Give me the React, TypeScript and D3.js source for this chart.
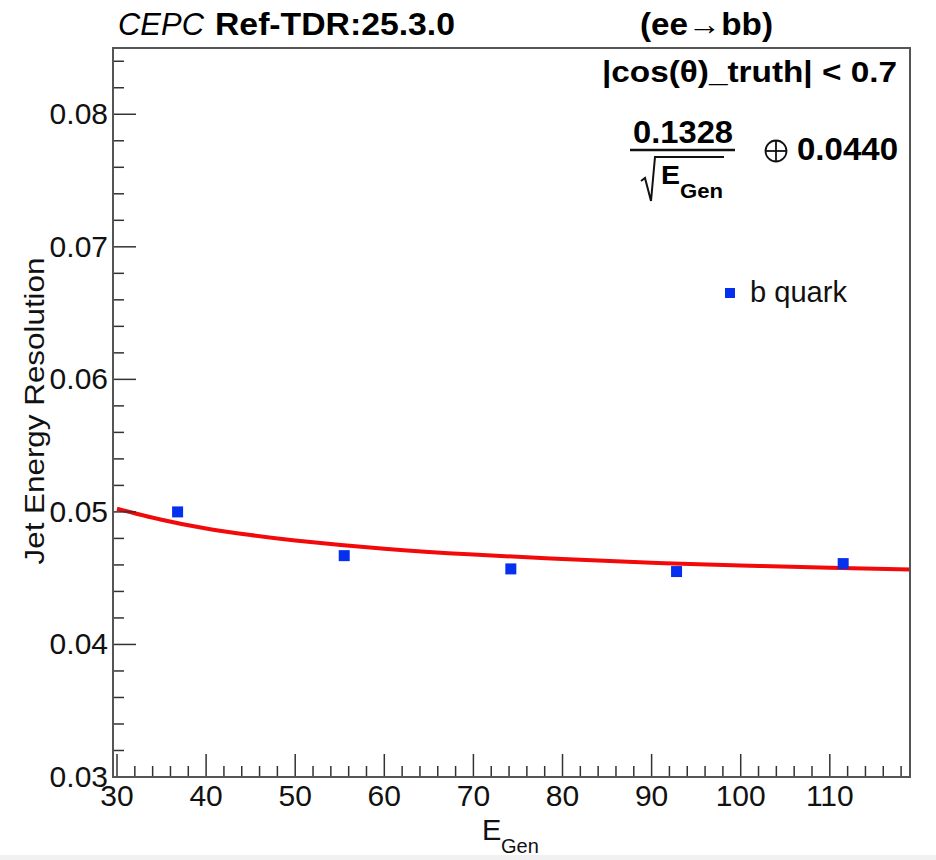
import React from 'react';
import * as d3 from 'd3';

// ---- data ----
const energies = [36.8, 55.5, 74.2, 92.8, 111.5];
const resolutions = [0.05, 0.0467, 0.0457, 0.0455, 0.0461];
const fitE = [30, 35, 40, 45, 50, 60, 70, 80, 90, 100, 110, 119];
const fitRes = [0.05024, 0.04941, 0.04875, 0.04825, 0.04784, 0.04722, 0.04678, 0.04644, 0.04617, 0.04596, 0.04578, 0.04565];
const xMajorTicks = [30, 40, 50, 60, 70, 80, 90, 100, 110];
const xTickLabels = ['30', '40', '50', '60', '70', '80', '90', '100', '110'];
const yMajorTicks = [0.03, 0.04, 0.05, 0.06, 0.07, 0.08];
const yTickLabels = ['0.03', '0.04', '0.05', '0.06', '0.07', '0.08'];
const xMinorStep = 2;
const yMinorStep = 0.002;
const legendLabel = 'b quark';
const fitParamA = '0.1328';
const fitParamC = '0.0440';

const W = 936;
const H = 860;
const left = 113;
const right = 910;
const top = 48;
const bottom = 777;
const FONT = "'Liberation Sans', Arial, Helvetica, sans-serif";

export default function App() {
  const x = d3.scaleLinear().domain([29.55, 119]).range([left, right]);
  const y = d3.scaleLinear().domain([0.03, 0.085]).range([bottom, top]);

  const xMinor = d3.range(30, 119.01, xMinorStep).filter((v) => !xMajorTicks.some((m) => Math.abs(m - v) < 1e-6));
  const yMinor = d3.range(0.03, 0.0851, yMinorStep).filter((v) => !yMajorTicks.some((m) => Math.abs(m - v) < 1e-7));

  const fitPts: [number, number][] = fitE.map((e, i) => [e, fitRes[i]]);
  const line = d3
    .line<[number, number]>()
    .x((d) => x(d[0]))
    .y((d) => y(d[1]))
    .curve(d3.curveNatural);

  const tickColor = '#333';
  const majorLen = 23;
  const minorLen = 11;

  return (
    <svg
      width={W}
      height={H}
      style={{ position: 'absolute', left: 0, top: 0, background: '#fff' }}
      fontFamily={FONT}
    >
      <rect x={0} y={0} width={W} height={H} fill="#fff" />
      <rect x={0} y={855} width={W} height={5} fill="#f1f1f1" />

      {/* header */}
      <text x={118} y={35} fontSize={31} fontStyle="italic" textLength={86} lengthAdjust="spacingAndGlyphs">
        CEPC
      </text>
      <text x={215} y={35} fontSize={31} fontWeight="bold" textLength={240} lengthAdjust="spacingAndGlyphs">
        Ref-TDR:25.3.0
      </text>
      <text x={640} y={35} fontSize={31} fontWeight="bold" textLength={133} lengthAdjust="spacingAndGlyphs">
        (ee→bb)
      </text>

      {/* fit curve (clipped to frame) */}
      <defs>
        <clipPath id="frameClip">
          <rect x={left} y={top} width={right - left} height={bottom - top} />
        </clipPath>
      </defs>
      <path
        d={line(fitPts) || ''}
        fill="none"
        stroke="#f20a0a"
        strokeWidth={4}
        clipPath="url(#frameClip)"
      />

      {/* data points */}
      {energies.map((e, i) => (
        <rect
          key={i}
          x={x(e) - 5.5}
          y={y(resolutions[i]) - 5.5}
          width={11}
          height={11}
          fill="#0530ee"
        />
      ))}

      {/* axis ticks */}
      {xMajorTicks.map((t) => (
        <line key={'xm' + t} x1={x(t)} x2={x(t)} y1={bottom} y2={bottom - majorLen} stroke={tickColor} strokeWidth={1.5} />
      ))}
      {xMinor.map((t) => (
        <line key={'xn' + t} x1={x(t)} x2={x(t)} y1={bottom} y2={bottom - minorLen} stroke={tickColor} strokeWidth={1.5} />
      ))}
      {yMajorTicks.map((t) => (
        <line key={'ym' + t} x1={left} x2={left + majorLen} y1={y(t)} y2={y(t)} stroke={tickColor} strokeWidth={1.5} />
      ))}
      {yMinor.map((t) => (
        <line key={'yn' + t} x1={left} x2={left + minorLen} y1={y(t)} y2={y(t)} stroke={tickColor} strokeWidth={1.5} />
      ))}

      {/* frame */}
      <rect x={left} y={top} width={right - left} height={bottom - top} fill="none" stroke="#555" strokeWidth={2} />

      {/* tick labels */}
      {xMajorTicks.map((t, i) => (
        <text key={'xl' + t} x={x(t)} y={806} fontSize={30} textAnchor="middle" fill="#111">
          {xTickLabels[i]}
        </text>
      ))}
      {yMajorTicks.map((t, i) => (
        <text key={'yl' + t} x={108} y={y(t) + 10} fontSize={30} textAnchor="end" fill="#111">
          {yTickLabels[i]}
        </text>
      ))}

      {/* axis titles */}
      <text
        transform="translate(44,411) rotate(-90)"
        fontSize={28}
        textAnchor="middle"
        textLength={307}
        lengthAdjust="spacingAndGlyphs"
        fill="#111"
      >
        Jet Energy Resolution
      </text>
      <text x={482} y={840} fontSize={29} fill="#111">
        E
      </text>
      <text x={501} y={853} fontSize={20} fill="#111">
        Gen
      </text>

      {/* annotation */}
      <text x={602} y={82} fontSize={30} fontWeight="bold" textLength={295} lengthAdjust="spacingAndGlyphs">
        |cos(θ)_truth| &lt; 0.7
      </text>
      <text x={633} y={143} fontSize={32} fontWeight="bold" textLength={100} lengthAdjust="spacingAndGlyphs">
        {fitParamA}
      </text>
      <line x1={630} x2={735} y1={150} y2={150} stroke="#111" strokeWidth={2.5} />
      <path d="M641,181 L645,178 L651,201 L655,157 L724,157" fill="none" stroke="#111" strokeWidth={2} />
      <text x={661} y={184} fontSize={26} fontWeight="bold" textLength={19} lengthAdjust="spacingAndGlyphs">
        E
      </text>
      <text x={680} y={198} fontSize={20} fontWeight="bold" textLength={43} lengthAdjust="spacingAndGlyphs">
        Gen
      </text>
      <circle cx={776} cy={151} r={10.5} fill="none" stroke="#111" strokeWidth={1.8} />
      <line x1={765.5} x2={786.5} y1={151} y2={151} stroke="#111" strokeWidth={1.8} />
      <line x1={776} x2={776} y1={140.5} y2={161.5} stroke="#111" strokeWidth={1.8} />
      <text x={797} y={160} fontSize={32} fontWeight="bold" textLength={101} lengthAdjust="spacingAndGlyphs">
        {fitParamC}
      </text>

      {/* legend */}
      <rect x={725} y={288} width={10} height={10} fill="#0530ee" />
      <text x={750} y={302} fontSize={29} textLength={97} lengthAdjust="spacingAndGlyphs" fill="#111">
        {legendLabel}
      </text>
    </svg>
  );
}
